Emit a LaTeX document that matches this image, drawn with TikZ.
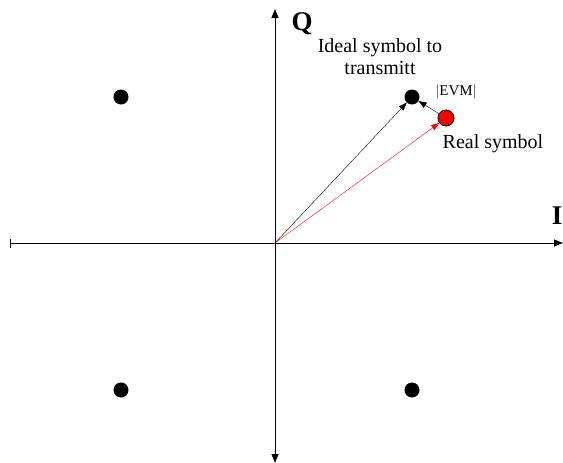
\documentclass[tikz,border=0pt]{standalone}
\usepackage{fontspec}
\setmainfont{Liberation Serif}
\usetikzlibrary{arrows.meta, positioning}
\tikzset{
  sym/.style={circle, fill=black, inner sep=0pt, minimum size=15pt},
  lbl/.style={font=\fontsize{20}{22}\selectfont, align=center},
  axlbl/.style={font=\fontsize{27}{27}\selectfont\bfseries},
}
\begin{document}
\begin{tikzpicture}[x=1pt, y=-1pt, >={Triangle[length=9pt,width=7pt]}]
    \useasboundingbox (0,0) rectangle (563,463);

    % axes
    \coordinate (O) at (275,243);
    \coordinate (west) at (10,243);
    \coordinate (east) at (563,243);
    \coordinate (north) at (275,9);
    \coordinate (south) at (275,463);
    \draw[line width=0.8pt, {Bar[width=9pt]}->] (west) -- (east);
    \draw[line width=0.8pt, <->] (south) -- (north);
    \node[axlbl] (qlbl) at (302,24) {Q};
    \node[axlbl] (ilbl) at (557,216) {I};

    % constellation
    \node[sym] (s1) at (121,97) {};
    \node[sym] (ideal) at (412,97) {};
    \node[sym] (s3) at (121,390) {};
    \node[sym] (s4) at (412,390) {};
    \node[sym, fill=red, draw=black, line width=0.8pt, minimum size=16pt] (real) at (446,118) {};

    % vectors
    \draw[->, >={Triangle[length=8pt,width=6pt]}] (O) -- (ideal);
    \draw[->, red, >={Triangle[length=8pt,width=6pt]}] (O) -- (real);
    \draw[->, >={Triangle[length=8pt,width=6pt]}] (real) -- (ideal);

    % labels
    \node[lbl] (ideallbl) at (380,57) {Ideal symbol to\\transmitt};
    \node[font=\fontsize{15}{15}\selectfont] (evm) at (456,92) {$|$EVM$|$};
    \node[lbl] (reallbl) at (493,144) {Real symbol};

\end{tikzpicture}
\end{document}
